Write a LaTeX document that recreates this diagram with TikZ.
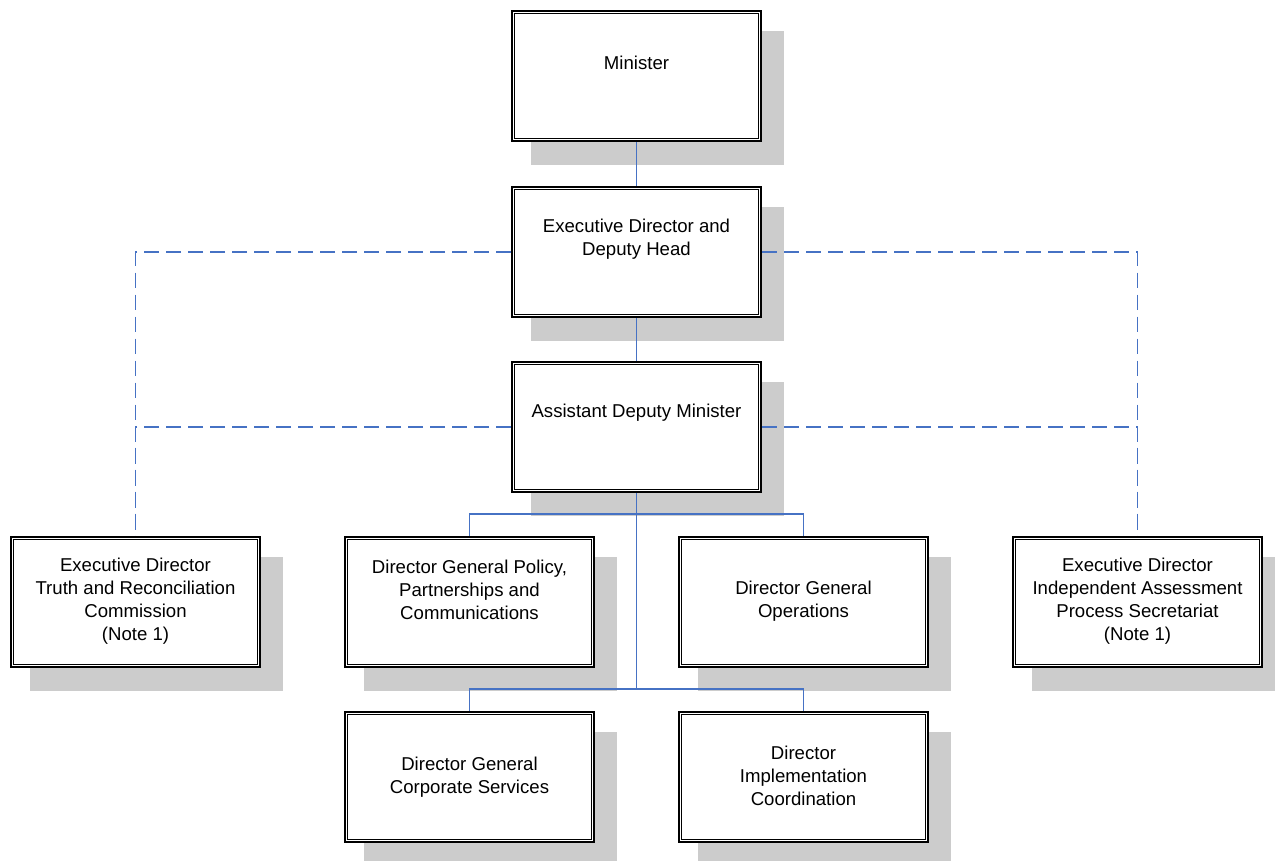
\documentclass[tikz,border=0pt]{standalone}
\usepackage{fontspec}
\setmainfont{Liberation Sans}
\usetikzlibrary{calc,backgrounds}
\definecolor{linkblue}{RGB}{70,114,196}
\definecolor{shadowgray}{RGB}{204,204,204}
\newcommand\boxshadow[1]{\fill[shadowgray] ($(#1.north west)+(20,21)$) rectangle ($(#1.south east)+(22,23)$);}
\newcommand\innerframe[1]{\draw[line width=1.3pt] ($(#1.north west)+(3.5,3.5)$) rectangle ($(#1.south east)+(-3.5,-3.5)$);}
\begin{document}
\begin{tikzpicture}[x=1pt,y=-1pt,
  orgbox/.style={draw=black, line width=2pt, fill=white,
    minimum width=249pt, minimum height=130pt, inner sep=0pt},
  txt/.style={align=center, font=\fontsize{18.6}{23}\selectfont, inner sep=0pt},
  conn/.style={draw=linkblue, line width=1.2pt},
  dashline/.style={draw=linkblue, line width=1.2pt, dash pattern=on 15pt off 7pt}]
\useasboundingbox (0,0) rectangle (1275,860);
% boxes
\node[orgbox] (min)  at (636.5,76)  {};
\node[orgbox] (ed)   at (636.5,252) {};
\node[orgbox] (adm)  at (636.5,427) {};
\node[orgbox] (trc)  at (135.5,602) {};
\node[orgbox] (pol)  at (469.5,602) {};
\node[orgbox] (ops)  at (803.5,602) {};
\node[orgbox] (iap)  at (1137.5,602) {};
\node[orgbox] (corp) at (469.5,777) {};
\node[orgbox] (impl) at (803.5,777) {};
\foreach \n in {min,ed,adm,trc,pol,ops,iap,corp,impl}{\innerframe{\n}}
% texts
\node[txt] (tmin)  at (636.5,63)    {Minister};
\node[txt] (ted)   at (636.5,239)   {Executive Director and\\Deputy Head};
\node[txt] (tadm)  at (636.5,413)   {Assistant Deputy Minister};
\node[txt] (ttrc)  at (135.5,601)   {Executive Director\\Truth and Reconciliation\\Commission\\(Note 1)};
\node[txt] (tpol)  at (469.5,589.5) {Director General Policy,\\Partnerships and\\Communications};
\node[txt] (tops)  at (803.5,601)   {Director General\\Operations};
\node[txt] (tiap)  at (1137.5,601)  {Executive Director\\Independent Assessment\\Process Secretariat\\(Note 1)};
\node[txt] (tcorp) at (469.5,777)   {Director General\\Corporate Services};
\node[txt] (timpl) at (803.5,776)   {Director\\Implementation\\Coordination};
\coordinate (b1) at (636.5,514);
\coordinate (b2) at (636.5,689);
\begin{scope}[on background layer]
  \boxshadow{min}\boxshadow{ed}\boxshadow{adm}
  \boxshadow{trc}\boxshadow{pol}\boxshadow{ops}\boxshadow{iap}
  \boxshadow{corp}\boxshadow{impl}
  \draw[conn] (min.south) -- (ed.north);
  \draw[conn] (ed.south) -- (adm.north);
  \draw[conn] (adm.south) -- (b2);
  \draw[conn] (pol.north) |- (b1) -| (ops.north);
  \draw[conn] (corp.north) |- (b2) -| (impl.north);
  \draw[dashline] (ed.west) -| (trc.north);
  \draw[dashline] (adm.west) -| (trc.north);
  \draw[dashline] (ed.east) -| (iap.north);
  \draw[dashline] (adm.east) -| (iap.north);
\end{scope}
\end{tikzpicture}
\end{document}
